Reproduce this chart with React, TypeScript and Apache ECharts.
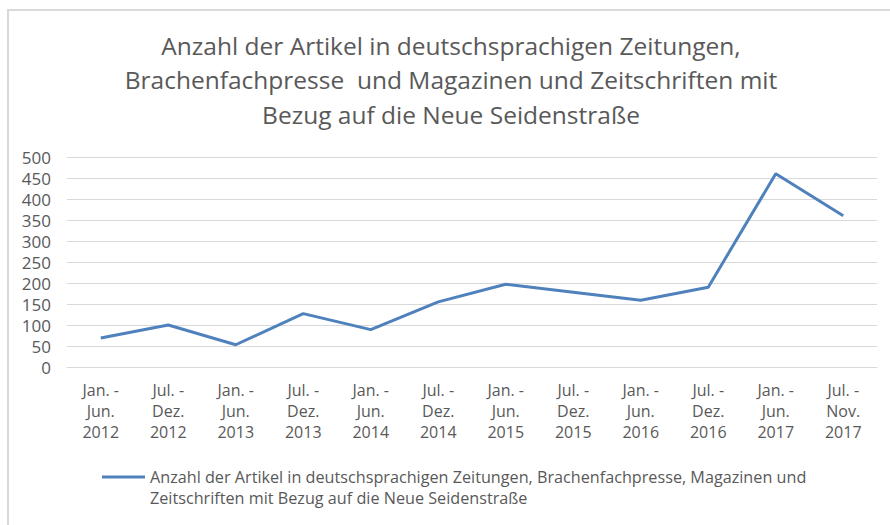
import React, { useEffect, useRef } from "react";
import * as echarts from "echarts";

const titleText =
  "Anzahl der Artikel in deutschsprachigen Zeitungen,\nBrachenfachpresse  und Magazinen und Zeitschriften mit\nBezug auf die Neue Seidenstraße";

const seriesName =
  "Anzahl der Artikel in deutschsprachigen Zeitungen, Brachenfachpresse, Magazinen und Zeitschriften mit Bezug auf die Neue Seidenstraße";
const legendLine1 =
  "Anzahl der Artikel in deutschsprachigen Zeitungen, Brachenfachpresse, Magazinen und";
const legendLine2 = "Zeitschriften mit Bezug auf die Neue Seidenstraße";

const categories = [
  "Jan. -\nJun.\n2012",
  "Jul. -\nDez.\n2012",
  "Jan. -\nJun.\n2013",
  "Jul. -\nDez.\n2013",
  "Jan. -\nJun.\n2014",
  "Jul. -\nDez.\n2014",
  "Jan. -\nJun.\n2015",
  "Jul. -\nDez.\n2015",
  "Jan. -\nJun.\n2016",
  "Jul. -\nDez.\n2016",
  "Jan. -\nJun.\n2017",
  "Jul. -\nNov.\n2017",
];

const articleCounts = [69, 100, 53, 127, 89, 155, 197, 178, 159, 190, 460, 360];

const yMin = 0;
const yMax = 500;
const yInterval = 50;

const FONT = "'Open Sans', sans-serif";
const TEXT = "#595959";
const GRID = "#d9d9d9";
const LINE = "#4f81bd";

export default function App() {
  const ref = useRef<HTMLDivElement>(null);

  useEffect(() => {
    if (!ref.current) return;
    const chart = echarts.init(ref.current, undefined, { renderer: "svg" });
    chart.setOption({
      animation: false,
      backgroundColor: "#ffffff",
      textStyle: { fontFamily: FONT },
      graphic: [
        {
          type: "rect",
          shape: { x: 8, y: 10, width: 1000, height: 1000 },
          style: { fill: "none", stroke: GRID, lineWidth: 2 },
          silent: true,
        },
        {
          type: "text",
          silent: true,
          style: {
            text: titleText,
            x: 451,
            y: 28,
            align: "center",
            verticalAlign: "top",
            lineHeight: 34.5,
            fill: TEXT,
            fontFamily: FONT,
            fontSize: 24.5,
          },
        },
        {
          type: "text",
          silent: true,
          style: {
            text: legendLine2,
            x: 150,
            y: 498,
            align: "left",
            verticalAlign: "middle",
            fill: TEXT,
            fontFamily: FONT,
            fontSize: 16.2,
          },
        },
      ],
      grid: { left: 67, right: 13, top: 157, bottom: 158 },
      xAxis: {
        type: "category",
        data: categories,
        boundaryGap: true,
        axisLine: { show: true, lineStyle: { color: GRID, width: 1 } },
        axisTick: { show: false },
        axisLabel: {
          interval: 0,
          margin: 12,
          color: TEXT,
          fontFamily: FONT,
          fontSize: 16,
          lineHeight: 21,
        },
      },
      yAxis: {
        type: "value",
        min: yMin,
        max: yMax,
        interval: yInterval,
        axisLine: { show: false },
        axisTick: { show: false },
        splitLine: { lineStyle: { color: GRID, width: 1 } },
        axisLabel: {
          margin: 16,
          color: TEXT,
          fontFamily: FONT,
          fontSize: 17,
        },
      },
      legend: {
        left: 102,
        top: 468,
        padding: 0,
        icon: "rect",
        itemWidth: 43,
        itemHeight: 3,
        data: [seriesName],
        formatter: () => legendLine1,
        textStyle: {
          color: TEXT,
          fontFamily: FONT,
          fontSize: 16.2,
          lineHeight: 18,
        },
      },
      series: [
        {
          name: seriesName,
          type: "line",
          data: articleCounts,
          symbol: "none",
          lineStyle: { color: LINE, width: 3 },
          itemStyle: { color: LINE },
        },
      ],
    });
    return () => chart.dispose();
  }, []);

  return (
    <div
      ref={ref}
      style={{ position: "absolute", left: 0, top: 0, width: 890, height: 525 }}
    />
  );
}
